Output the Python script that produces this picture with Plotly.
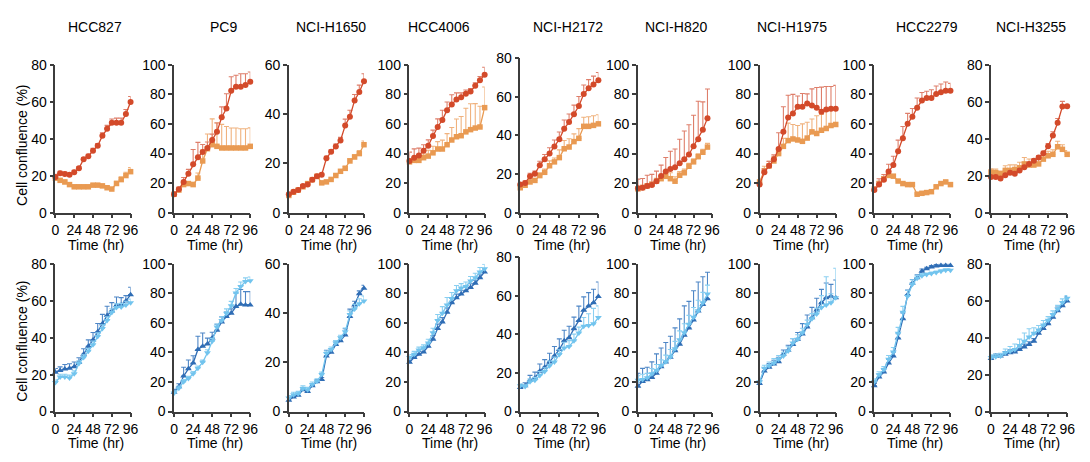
import plotly.graph_objects as go

# time points (hr)
time_hr = [0, 6, 12, 18, 24, 30, 36, 42, 48, 54, 60, 66, 72, 78, 84, 90, 96]
time_hr_h820 = time_hr[:16]

cell_lines = ["HCC827", "PC9", "NCI-H1650", "HCC4006", "NCI-H2172",
              "NCI-H820", "NCI-H1975", "HCC2279", "NCI-H3255"]
y_max = [80, 100, 60, 100, 80, 100, 100, 100, 80]
x_ticks = [0, 24, 48, 72, 96]

# ---- top row (red circles / orange squares) ----
hcc827_red = [19.3, 21.4, 21, 20.5, 21.9, 24, 28.9, 30.6, 33.6, 36.2, 41.7, 45.5, 48.7, 48.7, 48.7, 53.4, 59.9]
hcc827_red_err = [1.5, 1, 1, 1, 1, 1, 1, 1, 1.2, 1.2, 1.5, 1.8, 2, 2.5, 2.5, 2.5, 3]
hcc827_org = [18.7, 17.5, 16.6, 15.2, 14, 14, 14, 14, 14.9, 14.9, 14.5, 13.5, 12.8, 15.8, 17.9, 20.1, 22.2]
hcc827_org_err = [1, 1, 1, 1, 0.8, 0.8, 0.8, 0.8, 0.8, 0.8, 0.8, 0.8, 0.8, 1.2, 1.5, 1.8, 2.2]

pc9_red = [12.5, 15.8, 20.8, 26.3, 32.8, 37.6, 41.1, 43.8, 49.2, 54.7, 64.6, 70.5, 82.5, 85.3, 85.3, 86.4, 88.6]
pc9_red_err = [1, 1.5, 3, 3, 10, 10, 5, 4, 4, 6, 7, 10, 9.5, 7.7, 8.7, 7.6, 6.6]
pc9_org = [12.5, 15.3, 19, 19.7, 19, 23.4, 35, 43.3, 46, 44.9, 43.8, 43.8, 43.8, 43.8, 43.8, 43.8, 44.9]
pc9_org_err = [1, 1, 1, 1, 1.5, 3.5, 7.5, 10, 17.5, 16, 16, 14.5, 13.5, 13.5, 13, 13, 12.5]

h1650_red = [7.5, 8.5, 9.2, 10.8, 11.4, 13.4, 14.8, 15.4, 22.1, 24.7, 26.9, 29.3, 35.4, 39, 45.6, 49, 53.4]
h1650_red_err = [0.5, 0.5, 0.5, 0.5, 0.5, 0.6, 0.6, 0.6, 0.8, 0.8, 1, 1.3, 2.6, 2.6, 2.4, 2.8, 3]
h1650_org = [7, 8.3, 9.2, 10.5, 11.8, 13.4, 14.8, 12.1, 12.5, 13.5, 15.1, 16.8, 18, 21, 22.6, 24, 27.6]
h1650_org_err = [0.5, 0.5, 0.5, 0.5, 0.5, 0.5, 0.5, 0.5, 0.5, 0.5, 0.5, 0.5, 0.8, 1, 1, 1.2, 1.5]

hcc4006_red = [35, 37.2, 38.7, 42, 45.3, 51.9, 58, 62.8, 69.4, 73.3, 76.6, 78.1, 80.5, 82, 86, 89.7, 93.4]
hcc4006_red_err = [6, 6, 5, 4, 4, 4, 5.5, 6.5, 5.5, 6.5, 4.5, 3, 2.5, 2, 2, 2.5, 5]
hcc4006_org = [34.4, 35.4, 35.4, 37.2, 38.3, 40.5, 43.1, 43.1, 46, 49.2, 51.4, 52.1, 54.7, 56.2, 57.3, 58, 71.1]
hcc4006_org_err = [2, 2, 2, 2.5, 4, 4.5, 5, 6, 7.5, 8.5, 12, 13, 16, 17.5, 16.5, 14, 14]

h2172_red = [14.6, 15.4, 18.9, 20.1, 24.6, 27.6, 30.6, 34.3, 38, 43.5, 46.9, 51, 55.2, 61.4, 64.4, 66.4, 68.6]
h2172_red_err = [1, 1, 1.5, 1.5, 2, 2.5, 3, 3.3, 3.8, 4.5, 4.2, 4.7, 5, 4.7, 4.5, 4.3, 4]
h2172_org = [12.9, 14.2, 15.9, 16.7, 19.2, 20.9, 24.3, 26.3, 28.5, 33.1, 34, 36.8, 38.5, 44.7, 44.7, 45.2, 46]
h2172_org_err = [1, 1, 1, 1, 1.5, 1.7, 2.5, 2, 4, 4.3, 4.3, 4, 5, 4.7, 5, 5, 4.7]

h820_red = [16.5, 16.9, 18.1, 18.7, 21.3, 24.8, 27.9, 29.6, 30.7, 33.5, 36.1, 39.4, 44.9, 49.7, 56.2, 64]
h820_red_err = [6.2, 6.2, 7.2, 7.2, 6.8, 7.4, 9.4, 12, 12.4, 16.2, 19.2, 20.1, 21.1, 25.7, 18.8, 19.7]
h820_org = [16.1, 17, 18.1, 19.2, 21.3, 23, 24.6, 23, 21.3, 25.3, 27, 31.4, 34.4, 37.9, 40.9, 44.4]
h820_org_err = [1.5, 1.5, 1.5, 1.5, 2, 2, 3, 4, 3, 2.5, 2.5, 2, 2, 2, 2, 2.5]

h1975_red = [19, 27.4, 31.7, 36.1, 43.1, 54.7, 64.5, 67.1, 71.7, 71.7, 73.9, 72.5, 71, 68.4, 69.9, 70.4, 70.4]
h1975_red_err = [1.5, 2, 3, 3, 11, 17, 15, 13, 7.3, 9, 6.5, 11.3, 13.7, 16.6, 15.5, 15, 15.8]
h1975_org = [20.8, 28.4, 31.7, 35, 40, 44.9, 48.8, 49.9, 49.2, 48.3, 50.5, 54.7, 53.6, 55.8, 57, 59, 59.7]
h1975_org_err = [2, 3, 3, 3, 4, 5.4, 11.8, 9.8, 9.8, 11.8, 10.7, 8.7, 12, 10.7, 11.6, 10.7, 11]

hcc2279_red = [15.3, 19, 22.3, 27.8, 32.2, 41.6, 50.3, 60.2, 65, 71.1, 75.9, 77.7, 77.7, 80.3, 81.6, 82.5, 82.5]
hcc2279_red_err = [2, 4, 3.5, 5, 6, 7.5, 8, 7, 5.5, 6.5, 5.5, 4.5, 5.5, 5.5, 5.5, 6, 5]
hcc2279_org = [16, 19.7, 23, 25.2, 24.7, 21.4, 19.7, 19, 19, 12.5, 13.1, 13.6, 14.2, 17.5, 19.7, 20.8, 19]
hcc2279_org_err = [1.5, 1.5, 1.5, 1, 1, 1, 1, 1, 1, 0.8, 0.8, 0.8, 0.8, 0.8, 1, 1, 1]

h3255_red = [19.3, 19.3, 18.5, 20.2, 21.6, 21.1, 22.9, 24.6, 26.4, 28.1, 29.9, 32.2, 36, 41.8, 48.7, 57.5, 57.7]
h3255_red_err = [1, 1, 1, 1, 1, 1, 1, 1, 1, 1, 1, 1, 1.5, 2, 2.3, 2.8, 0.5]
h3255_org = [22, 21.6, 21.1, 22.9, 22.9, 23.4, 24.3, 26.4, 25.8, 25.8, 26.4, 29, 30.8, 31.6, 35.7, 34.3, 31.6]
h3255_org_err = [1.8, 2, 1.5, 2.5, 3, 2.5, 3, 3.5, 3.3, 3.3, 2.5, 2.5, 2.5, 2.5, 3, 2.5, 2]

# ---- bottom row (dark blue up-triangles / light blue down-triangles) ----
hcc827_dk = [21.3, 22.2, 23, 23.4, 24.3, 26.6, 31, 35.3, 38.8, 43.2, 47.6, 52, 54.5, 57.5, 57.7, 59.8, 63.3]
hcc827_dk_err = [2, 2, 2.5, 2.5, 2.5, 2.5, 3, 3.5, 4, 4.5, 5, 5, 4.5, 4.5, 4, 3, 4]
hcc827_lt = [15.7, 18.7, 18.7, 18.2, 20.5, 26, 29.2, 32.7, 36.2, 40.6, 45, 49.3, 53.7, 56.3, 56.6, 57.7, 58.9]
hcc827_lt_err = [1.5, 1.5, 1.5, 1.5, 1.5, 1.5, 1.5, 1.5, 2, 2, 2, 2, 2, 2, 2, 2, 2]

pc9_dk = [13.1, 16.8, 24, 28.9, 32.8, 42, 44.2, 45.7, 49.7, 55.1, 60.6, 64.3, 66.5, 71.1, 72.6, 72.2, 72.2]
pc9_dk_err = [2, 2, 6, 6, 5, 9, 9, 4, 4, 4, 3.5, 3, 3, 9, 10, 9, 9]
pc9_lt = [12.5, 15.8, 20.1, 22.3, 25.6, 29.3, 33.3, 39.8, 47.5, 57.3, 61.7, 66.5, 71.6, 80.3, 84.7, 88, 88.6]
pc9_lt_err = [1.5, 1.5, 1.5, 1.5, 1.5, 1.5, 1.5, 2, 2, 2, 2.5, 3, 3, 3, 3, 2.5, 2.5]

h1650_dk = [4.6, 5.9, 6.6, 8.8, 8.1, 10.5, 12.1, 13, 22.6, 24.1, 27.2, 28.7, 31.1, 38.6, 43.3, 47.8, 50.1]
h1650_dk_err = [0.8, 0.8, 0.8, 0.8, 0.8, 0.8, 0.8, 0.8, 2.3, 1.5, 1.5, 1.5, 2.5, 3, 1.5, 1.2, 1.2]
h1650_lt = [5.5, 6.8, 7.2, 9.4, 8.8, 11, 12.3, 15, 23.6, 25.2, 27.8, 30, 32.4, 39.4, 41.6, 43.8, 44.9]
h1650_lt_err = [1, 1, 1, 1, 1, 1, 1, 1, 1, 1, 1, 1, 1.5, 1.5, 2, 2, 2]

hcc4006_dk = [33.3, 36.5, 38.7, 40.3, 44.2, 49, 56.2, 60.6, 67.2, 73.7, 77, 79.6, 81.8, 84, 86.9, 90.6, 94.5]
hcc4006_dk_err = [1.5, 2, 2, 2, 2, 2.5, 3, 3, 3, 3, 2.5, 2.5, 2.5, 2.5, 2, 2, 2]
hcc4006_lt = [36.5, 38.7, 41.6, 43.1, 46.4, 53.4, 61.7, 66.5, 72.2, 76.6, 81.8, 83.6, 84.7, 88.4, 90.6, 94.5, 96.7]
hcc4006_lt_err = [2, 2, 2, 2, 2.5, 3, 4, 4.5, 5, 4, 3.5, 3, 3, 3, 3, 3, 3]

h2172_dk = [12.5, 13.4, 16.2, 17.4, 20.9, 22.9, 25.7, 28.7, 32.1, 36.6, 38.2, 42.9, 47.1, 52.4, 54.6, 56.3, 59.6]
h2172_dk_err = [1.5, 1.5, 2.5, 3, 3.7, 4, 4.5, 5, 5.5, 5.5, 6, 6, 7.5, 7, 7, 7, 7.5]
h2172_lt = [13.4, 12.9, 15.4, 16.2, 18.7, 20.7, 23.7, 25.7, 29.5, 32.9, 33.7, 36.6, 40.7, 44.1, 44.6, 45.4, 48.7]
h2172_lt_err = [1, 1, 1.5, 1.5, 2, 2, 2.5, 2.5, 2.5, 3, 3, 3.5, 3, 4.6, 6, 8, 6]

h820_dk = [17.1, 20.4, 21.5, 23, 25.9, 30.3, 33.6, 36.8, 41.2, 45.6, 51.7, 56.6, 62, 68, 72.4, 76.3]
h820_dk_err = [8.8, 8.8, 8.5, 10.6, 13.1, 12.7, 13.1, 14.2, 15.4, 17.1, 19.8, 18, 19.8, 19.7, 18.8, 18]
h820_lt = [21.2, 21.7, 22.8, 25.6, 27.8, 31.1, 33.7, 37, 42.5, 48.6, 53.4, 59.1, 63.9, 68.3, 73.7, 79.6]
h820_lt_err = [3, 3.5, 3, 3.5, 4, 4, 4.5, 5, 5, 6, 6, 6, 6.5, 7, 7, 6]

h1975_dk = [19, 27.4, 30, 32.2, 33.7, 38.7, 41.4, 45.3, 49, 52.5, 57.3, 63.5, 68.7, 73.7, 77, 78.1, 77]
h1975_dk_err = [1.5, 2, 2.5, 2.5, 3, 3, 3.5, 4, 4.5, 7, 8, 7, 8, 9, 10, 8, 12]
h1975_lt = [20.1, 29.3, 31, 32.8, 35.4, 37.6, 40.9, 46.4, 49, 53.4, 58.9, 62.8, 66, 70.5, 72.2, 73.7, 77]
h1975_lt_err = [1.5, 2, 2.5, 3, 2.5, 2.5, 3, 3, 3, 3, 3, 3.5, 4, 8, 19, 6, 20]

hcc2279_dk = [17.5, 23.4, 26.7, 32.8, 37.6, 49.7, 62.8, 79.2, 86.9, 90.6, 95, 96.7, 97.8, 98.5, 98.9, 98.9, 98.9]
hcc2279_dk_err = [1.5, 2, 2, 2.5, 2.5, 3, 4, 3, 2.5, 2, 1.5, 1, 1, 1, 1, 1, 1]
hcc2279_lt = [20.1, 24.9, 28.4, 35.4, 40.3, 53, 67.2, 78.1, 86.2, 90.2, 91.9, 92.8, 93.4, 94.1, 95, 95.6, 95.6]
hcc2279_lt_err = [2, 2, 2, 2.5, 3, 4, 4, 4, 3, 2, 1.5, 1, 1, 1, 1, 1, 1]

h3255_dk = [28.7, 30.1, 30.1, 31, 31.9, 32.2, 33.6, 35, 36.3, 38, 42.4, 45, 47.6, 51.1, 54.6, 57.3, 59.9]
h3255_dk_err = [1.5, 1, 1, 1.5, 1.5, 1.5, 1.5, 1.5, 1.5, 1.5, 2, 2, 2, 2, 2, 2, 2.5]
h3255_lt = [29.2, 29.6, 30.1, 31.9, 32.7, 33.6, 35.7, 38, 40.3, 42.4, 44.1, 46.8, 49.4, 52.5, 55.5, 59, 61.3]
h3255_lt_err = [1.5, 1.5, 1.5, 2, 2.5, 3, 3.5, 4.5, 4.5, 3, 2.5, 2.5, 2, 2, 2, 2, 1.5]

top_panels = [
    (hcc827_org, hcc827_org_err, hcc827_red, hcc827_red_err),
    (pc9_org, pc9_org_err, pc9_red, pc9_red_err),
    (h1650_org, h1650_org_err, h1650_red, h1650_red_err),
    (hcc4006_org, hcc4006_org_err, hcc4006_red, hcc4006_red_err),
    (h2172_org, h2172_org_err, h2172_red, h2172_red_err),
    (h820_org, h820_org_err, h820_red, h820_red_err),
    (h1975_org, h1975_org_err, h1975_red, h1975_red_err),
    (hcc2279_org, hcc2279_org_err, hcc2279_red, hcc2279_red_err),
    (h3255_org, h3255_org_err, h3255_red, h3255_red_err),
]
bottom_panels = [
    (hcc827_dk, hcc827_dk_err, hcc827_lt, hcc827_lt_err),
    (pc9_dk, pc9_dk_err, pc9_lt, pc9_lt_err),
    (h1650_dk, h1650_dk_err, h1650_lt, h1650_lt_err),
    (hcc4006_dk, hcc4006_dk_err, hcc4006_lt, hcc4006_lt_err),
    (h2172_dk, h2172_dk_err, h2172_lt, h2172_lt_err),
    (h820_dk, h820_dk_err, h820_lt, h820_lt_err),
    (h1975_dk, h1975_dk_err, h1975_lt, h1975_lt_err),
    (hcc2279_dk, hcc2279_dk_err, hcc2279_lt, hcc2279_lt_err),
    (h3255_dk, h3255_dk_err, h3255_lt, h3255_lt_err),
]

# layout in pixels
W, H = 1090, 462
col_px = [(52, 128), (172, 249), (288, 364), (410, 486), (522, 601),
          (641, 716), (764, 841), (880, 957), (998, 1075)]
title_px = [92, 222, 331, 440, 570, 679, 797, 933, 1038]
top_row_px = (59, 212)
bot_row_px = (265, 418)
tall_col = 4  # NCI-H2172 axes are a bit taller

RED, ORG = "#D34A2A", "#E99A52"
RED_E, ORG_E = "#DE7E6A", "#F0B27E"
DK, LT = "#2F6DB5", "#72C4EE"
DK_E, LT_E = "#4E86C6", "#8ACFF1"
AX = "#3c3c3c"
FONT = "Arial, Liberation Sans, sans-serif"


def px_x(p):
    return p / W


def px_y(p):
    return 1 - p / H


def series(x, y, err, color, ecolor, symbol, xa, ya, size=6):
    return go.Scatter(
        x=x, y=y, xaxis=xa, yaxis=ya, mode="lines+markers",
        line=dict(color=color, width=1.3),
        marker=dict(color=color, symbol=symbol, size=size, line=dict(width=0)),
        error_y=dict(type="data", array=err, arrayminus=[0] * len(err),
                     symmetric=False, color=ecolor, thickness=1.1, width=2.5),
        cliponaxis=False, showlegend=False, hoverinfo="skip",
    )


def label(text, x, y, angle=0):
    return dict(
        text=text, xref="paper", yref="paper", x=px_x(x), y=px_y(y),
        xanchor="center", yanchor="middle", textangle=angle, showarrow=False,
        font=dict(size=14, family=FONT, color="black"),
    )


fig = go.Figure()
layout = {}
annotations = []

for i in range(9):
    x0, x1 = col_px[i]
    for r in range(2):
        n = r * 9 + i + 1
        xa = "x" if n == 1 else f"x{n}"
        ya = "y" if n == 1 else f"y{n}"
        top_px, bot_px = top_row_px if r == 0 else bot_row_px
        if i == tall_col:
            top_px -= 7
        t = time_hr_h820 if cell_lines[i] == "NCI-H820" else time_hr

        if r == 0:
            org, org_e, red, red_e = top_panels[i]
            fig.add_trace(series(t, org, org_e, ORG, ORG_E, "square", xa, ya, 5.5))
            fig.add_trace(series(t, red, red_e, RED, RED_E, "circle", xa, ya, 6))
        else:
            dk, dk_e, lt, lt_e = bottom_panels[i]
            fig.add_trace(series(t, dk, dk_e, DK, DK_E, "triangle-up", xa, ya, 6))
            fig.add_trace(series(t, lt, lt_e, LT, LT_E, "triangle-down", xa, ya, 6))

        axis_common = dict(
            showline=True, linecolor=AX, linewidth=1.5, ticks="outside",
            ticklen=4, tickwidth=1.5, tickcolor=AX, showgrid=False,
            zeroline=False, tickfont=dict(size=14, color="black", family=FONT),
            fixedrange=True,
        )
        layout["xaxis" if n == 1 else f"xaxis{n}"] = dict(
            axis_common, domain=[px_x(x0), px_x(x1)], range=[0, 96],
            tickvals=x_ticks, tickangle=0, anchor=ya,
        )
        layout["yaxis" if n == 1 else f"yaxis{n}"] = dict(
            axis_common, domain=[px_y(bot_px), px_y(top_px)],
            range=[0, y_max[i]], dtick=20, anchor=xa,
        )
        annotations.append(label("Time (hr)", (x0 + x1) / 2 + 3, bot_px + 33))

    annotations.append(label(cell_lines[i], title_px[i], 20))

for yc in (142, 345):
    annotations.append(label("Cell confluence (%)", 18, yc, -90))

fig.update_layout(
    width=W, height=H, margin=dict(l=0, r=0, t=0, b=0),
    paper_bgcolor="white", plot_bgcolor="white",
    font=dict(family=FONT, size=14, color="black"),
    annotations=annotations, **layout,
)

fig.write_html(
    "out.html",
    config={"displayModeBar": False},
    post_script="document.body.style.margin='0';document.body.style.overflow='hidden';",
)
